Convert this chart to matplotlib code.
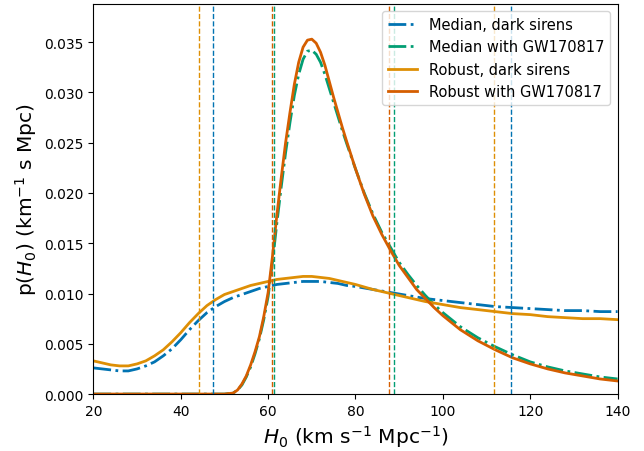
import matplotlib
matplotlib.use("Agg")
import matplotlib.pyplot as plt
import numpy as np

# Median, dark sirens
h_blue = [20, 22, 24, 26, 28, 30, 32, 34, 36, 38, 40, 42, 44, 46, 48, 50, 52, 54, 56, 58,
          60, 62, 64, 66, 68, 70, 72, 74, 76, 78, 80, 84, 88, 92, 96, 100, 104, 108, 112,
          116, 120, 124, 128, 132, 136, 140]
p_blue = [0.0026, 0.0025, 0.0024, 0.0023, 0.0023, 0.0025, 0.0028, 0.0032, 0.0038, 0.0045,
          0.0054, 0.0064, 0.0073, 0.0081, 0.0087, 0.0092, 0.0096, 0.0099, 0.0102, 0.0105,
          0.0107, 0.0109, 0.0110, 0.0111, 0.0112, 0.0112, 0.0112, 0.0111, 0.0110, 0.0108,
          0.0107, 0.0104, 0.0101, 0.0098, 0.0095, 0.0093, 0.0091, 0.0089, 0.0087, 0.0086,
          0.0085, 0.0084, 0.0083, 0.0083, 0.0082, 0.0082]

# Robust, dark sirens
h_orange = h_blue
p_orange = [0.0033, 0.0031, 0.0029, 0.0028, 0.0028, 0.0030, 0.0033, 0.0038, 0.0044, 0.0052,
            0.0061, 0.0071, 0.0080, 0.0088, 0.0094, 0.0099, 0.0102, 0.0105, 0.0108, 0.0110,
            0.0112, 0.0114, 0.0115, 0.0116, 0.0117, 0.0117, 0.0116, 0.0115, 0.0113, 0.0111,
            0.0109, 0.0104, 0.0100, 0.0096, 0.0092, 0.0089, 0.0086, 0.0084, 0.0082, 0.0080,
            0.0079, 0.0077, 0.0076, 0.0075, 0.0075, 0.0074]

# With GW170817
h_gw = [20, 30, 40, 48, 50, 52, 53, 54, 55, 56, 57, 58, 59, 60, 61, 62, 63, 64, 65, 66, 67,
        68, 69, 70, 71, 72, 73, 74, 75, 76, 77, 78, 80, 82, 84, 86, 88, 90, 92, 94, 96, 98,
        100, 104, 108, 112, 116, 120, 124, 128, 132, 136, 140]
p_green = [0.0, 0.0, 0.0, 0.0, 0.0, 0.0001, 0.0004, 0.0009, 0.0017, 0.0027, 0.0040, 0.0055,
           0.0074, 0.0097, 0.0131, 0.0170, 0.0206, 0.0240, 0.0270, 0.0297, 0.0318, 0.0333,
           0.0341, 0.0342, 0.0338, 0.0330, 0.0318, 0.0304, 0.0290, 0.0276, 0.0262, 0.0249,
           0.0224, 0.0200, 0.0179, 0.0161, 0.0146, 0.0131, 0.0119, 0.0108, 0.0098, 0.0089,
           0.0081, 0.0067, 0.0056, 0.0047, 0.0039, 0.0032, 0.0027, 0.0023, 0.0020, 0.0017,
           0.0015]
p_verm = [0.0, 0.0, 0.0, 0.0, 0.0, 0.0001, 0.0004, 0.0010, 0.0018, 0.0029, 0.0042, 0.0057,
          0.0077, 0.0101, 0.0137, 0.0178, 0.0215, 0.0250, 0.0280, 0.0308, 0.0330, 0.0345,
          0.0352, 0.0353, 0.0349, 0.0340, 0.0327, 0.0311, 0.0295, 0.0280, 0.0265, 0.0251,
          0.0224, 0.0199, 0.0177, 0.0159, 0.0143, 0.0128, 0.0116, 0.0104, 0.0095, 0.0086,
          0.0078, 0.0064, 0.0053, 0.0044, 0.0036, 0.0030, 0.0025, 0.0021, 0.0018, 0.0015,
          0.0013]

# Interval bounds (dashed vertical lines)
bounds_blue = [47.3, 115.7]
bounds_green = [61.35, 88.8]
bounds_orange = [44.2, 111.8]
bounds_verm = [61.0, 87.7]

labels = ["Median, dark sirens", "Median with GW170817",
          "Robust, dark sirens", "Robust with GW170817"]
c_blue, c_green, c_orange, c_verm = "#0173b2", "#029e73", "#de8f05", "#d55e00"

fig = plt.figure(figsize=(6.44, 4.52), dpi=100)
ax = fig.add_axes([0.145, 0.126, 0.814, 0.863])

ax.plot(h_blue, p_blue, ls="-.", color=c_blue, lw=2, label=labels[0])
ax.plot(h_gw, p_green, ls="-.", color=c_green, lw=2, label=labels[1])
ax.plot(h_orange, p_orange, ls="-", color=c_orange, lw=2, label=labels[2])
ax.plot(h_gw, p_verm, ls="-", color=c_verm, lw=2, label=labels[3])

for b, c in [(bounds_blue, c_blue), (bounds_green, c_green),
             (bounds_orange, c_orange), (bounds_verm, c_verm)]:
    for v in b:
        ax.axvline(v, color=c, ls="--", lw=1)

ax.set_xlim(20, 140)
ax.set_ylim(0, 0.0388)
ax.set_yticks(np.arange(0, 0.0351, 0.005))
ax.tick_params(labelsize=10)
ax.set_xlabel(r"$H_0$ (km s$^{-1}$ Mpc$^{-1}$)", fontsize=14.5)
ax.set_ylabel(r"p($H_0$) (km$^{-1}$ s Mpc)", fontsize=14.5)
ax.legend(loc="upper right", fontsize=10.5)

fig.savefig("out.png", dpi=100)
